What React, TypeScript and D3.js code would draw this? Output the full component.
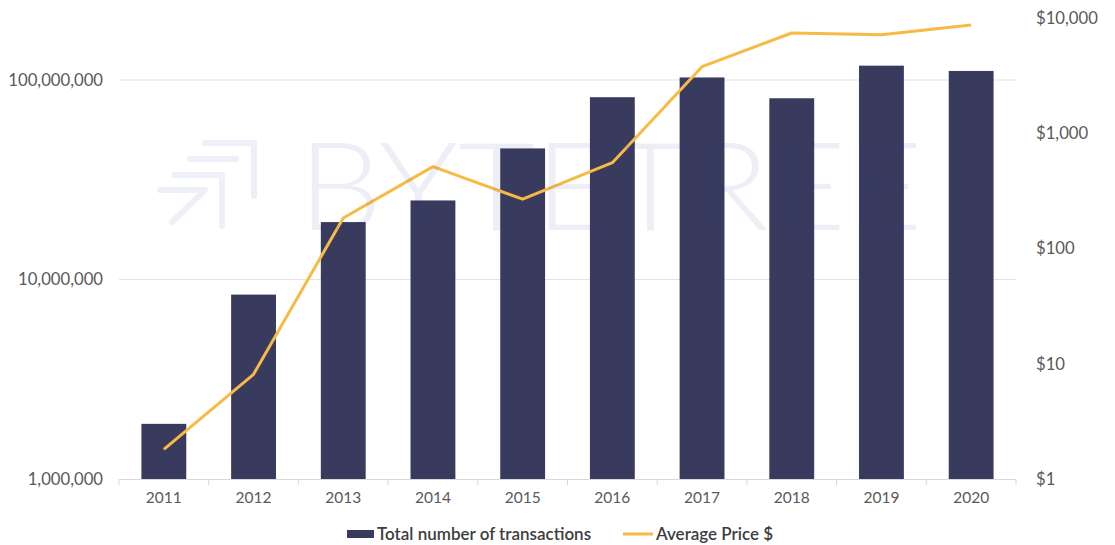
import React, { useEffect, useRef } from "react";
import * as d3 from "d3";

const years = ["2011", "2012", "2013", "2014", "2015", "2016", "2017", "2018", "2019", "2020"];
const transactions = [1890000, 8400000, 19400000, 24900000, 45400000, 82000000, 103000000, 81000000, 118000000, 111000000];
const avgPrice = [1.81, 8.1, 184, 513, 268, 555, 3780, 7410, 7160, 8690];
const leftTicks = [1000000, 10000000, 100000000];
const rightTicks = [1, 10, 100, 1000, 10000];

const FONT = 'Lato, "Open Sans", sans-serif';

export default function App() {
    const ref = useRef<SVGSVGElement>(null);

    useEffect(() => {
        const width = 1115,
            height = 545;
        const left = 119,
            right = 1016,
            bottom = 479,
            top = 18;

        const svg = d3.select(ref.current);
        svg.selectAll("*").remove();

        const x = d3.scaleBand().domain(years).range([left, right]).paddingInner(0.5).paddingOuter(0.25);
        const xBand = d3.scaleBand().domain(years).range([left, right]);

        // left axis: 1M at bottom, 100M at the upper grid line
        const yLeft = d3.scaleLog().domain([1e6, 1e8]).range([bottom, 80]);
        const yRight = d3.scaleLog().domain([1, 1e4]).range([bottom, top]);

        // grid lines
        svg.append("g")
            .selectAll("line")
            .data(leftTicks.slice(1))
            .enter()
            .append("line")
            .attr("x1", left)
            .attr("x2", right)
            .attr("y1", d => yLeft(d))
            .attr("y2", d => yLeft(d))
            .attr("stroke", "#e3e3e3")
            .attr("stroke-width", 1);

        // bars
        svg.append("g")
            .selectAll("rect")
            .data(years)
            .enter()
            .append("rect")
            .attr("x", d => x(d) as number)
            .attr("width", x.bandwidth())
            .attr("y", (d, i) => yLeft(transactions[i]))
            .attr("height", (d, i) => bottom - yLeft(transactions[i]))
            .attr("fill", "#393b5e");

        // x axis
        svg.append("line")
            .attr("x1", left)
            .attr("x2", right)
            .attr("y1", bottom + 0.5)
            .attr("y2", bottom + 0.5)
            .attr("stroke", "#d9d9d9");

        const tickPos = years.map(d => xBand(d) as number).concat([right]);
        svg.append("g")
            .selectAll("line")
            .data(tickPos)
            .enter()
            .append("line")
            .attr("x1", d => d)
            .attr("x2", d => d)
            .attr("y1", bottom)
            .attr("y2", bottom + 6)
            .attr("stroke", "#d9d9d9");

        svg.append("g")
            .selectAll("text")
            .data(years)
            .enter()
            .append("text")
            .attr("x", d => (xBand(d) as number) + xBand.bandwidth() / 2)
            .attr("y", bottom + 24)
            .attr("text-anchor", "middle")
            .style("font-family", FONT)
            .style("font-size", "15.5px")
            .attr("fill", "#595959")
            .text(d => d);

        // left labels
        svg.append("g")
            .selectAll("text")
            .data(leftTicks)
            .enter()
            .append("text")
            .attr("x", 103)
            .attr("y", d => yLeft(d))
            .attr("dy", "0.35em")
            .attr("text-anchor", "end")
            .style("font-family", FONT)
            .style("font-size", "16.7px")
            .attr("fill", "#595959")
            .text(d => d3.format(",")(d));

        // right labels
        svg.append("g")
            .selectAll("text")
            .data(rightTicks)
            .enter()
            .append("text")
            .attr("x", 1036)
            .attr("y", d => yRight(d))
            .attr("dy", "0.35em")
            .attr("text-anchor", "start")
            .style("font-family", FONT)
            .style("font-size", "16.7px")
            .attr("fill", "#595959")
            .text(d => "$" + d3.format(",")(d));

        // price line
        const line = d3.line<number>()
            .x((d, i) => (xBand(years[i]) as number) + xBand.bandwidth() / 2)
            .y(d => yRight(d));

        svg.append("path")
            .datum(avgPrice)
            .attr("d", line)
            .attr("fill", "none")
            .attr("stroke", "#f7bb45")
            .attr("stroke-width", 3)
            .attr("stroke-linejoin", "round");

        // watermark on top
        const wm = svg.append("g").attr("opacity", 0.075);
        wm.append("text")
            .attr("x", 298)
            .attr("y", 230)
            .attr("textLength", 625)
            .attr("lengthAdjust", "spacingAndGlyphs")
            .style("font-family", FONT)
            .style("font-weight", 300)
            .style("font-size", "122px")
            .attr("fill", "#1f2f8f")
            .text("BYTETREE");

        const logo = d3.path();
        logo.moveTo(205, 143); logo.lineTo(254, 143); logo.lineTo(254, 196);
        logo.moveTo(190, 159); logo.lineTo(236, 159);
        logo.moveTo(175, 175); logo.lineTo(222, 175); logo.lineTo(222, 226);
        logo.moveTo(160, 190); logo.lineTo(205, 190);
        logo.moveTo(205, 190); logo.lineTo(172, 222);
        wm.append("path")
            .attr("d", logo.toString())
            .attr("fill", "none")
            .attr("stroke", "#1f2f8f")
            .attr("stroke-width", 6)
            .attr("stroke-linecap", "round")
            .attr("stroke-linejoin", "round");

        // legend
        const lg = svg.append("g");
        lg.append("rect")
            .attr("x", 347)
            .attr("y", 530)
            .attr("width", 27)
            .attr("height", 8)
            .attr("fill", "#393b5e");
        lg.append("text")
            .attr("x", 377)
            .attr("y", 534)
            .attr("dy", "0.35em")
            .style("font-family", FONT)
            .style("font-size", "17px")
            .style("font-weight", 600)
            .attr("fill", "#3d3d3d")
            .text("Total number of transactions");
        lg.append("line")
            .attr("x1", 623)
            .attr("x2", 653)
            .attr("y1", 534)
            .attr("y2", 534)
            .attr("stroke", "#f7bb45")
            .attr("stroke-width", 3);
        lg.append("text")
            .attr("x", 656)
            .attr("y", 534)
            .attr("dy", "0.35em")
            .style("font-family", FONT)
            .style("font-size", "17px")
            .style("font-weight", 600)
            .attr("fill", "#3d3d3d")
            .text("Average Price $");

        svg.attr("width", width).attr("height", height);
    }, []);

    return (
        <svg
            ref={ref}
            width={1115}
            height={545}
            style={{ position: "absolute", left: 0, top: 0, background: "#fff" }}
        />
    );
}
